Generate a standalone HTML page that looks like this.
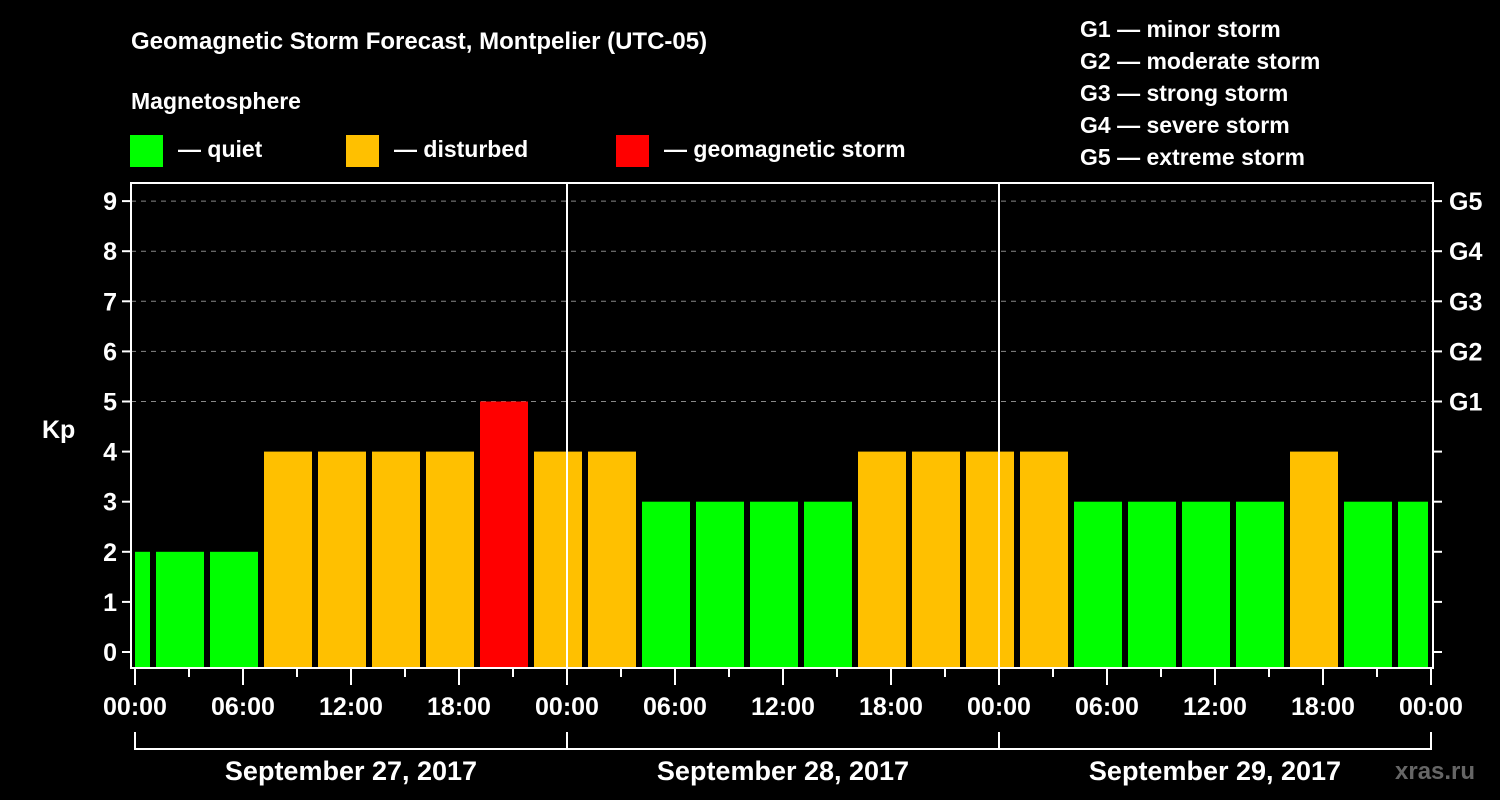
<!DOCTYPE html>
<html><head><meta charset="utf-8"><style>
html,body{margin:0;padding:0;background:#000;}
svg{display:block;font-family:"Liberation Sans",Arial,sans-serif;font-weight:bold;}
</style></head><body>
<svg id="chart" width="1500" height="800" viewBox="0 0 1500 800">
<rect width="1500" height="800" fill="#000"/>
<text x="131" y="49" fill="#fff" font-size="24">Geomagnetic Storm Forecast, Montpelier (UTC-05)</text>
<text x="131" y="109" fill="#fff" font-size="23">Magnetosphere</text>
<g><rect x="130" y="135" width="33" height="32" fill="#00ff00"/><text x="178" y="157" fill="#fff" font-size="23">— quiet</text></g>
<g><rect x="346" y="135" width="33" height="32" fill="#ffc000"/><text x="394" y="157" fill="#fff" font-size="23">— disturbed</text></g>
<g><rect x="616" y="135" width="33" height="32" fill="#ff0000"/><text x="664" y="157" fill="#fff" font-size="23">— geomagnetic storm</text></g>
<g fill="#fff" font-size="23">
<text x="1080" y="37">G1 — minor storm</text>
<text x="1080" y="69">G2 — moderate storm</text>
<text x="1080" y="101">G3 — strong storm</text>
<text x="1080" y="133">G4 — severe storm</text>
<text x="1080" y="165">G5 — extreme storm</text>
</g>
<text x="42" y="438" fill="#fff" font-size="25">Kp</text>
<text x="1395" y="779" fill="#666" font-size="24">xras.ru</text>
<g id="plot"></g>
</svg>
<script>
const kpValues = [2,2,2,4,4,4,4,5,4,4,3,3,3,3,4,4,4,4,3,3,3,3,4,3,3];
const binStartHours = [-2,1,4,7,10,13,16,19,22,25,28,31,34,37,40,43,46,49,52,55,58,61,64,67,70];
const yTicks = [0,1,2,3,4,5,6,7,8,9];
const gLabels = ["G1","G2","G3","G4","G5"];
const gLevels = [5,6,7,8,9];
const xTickLabels = ["00:00","06:00","12:00","18:00","00:00","06:00","12:00","18:00","00:00","06:00","12:00","18:00","00:00"];
const dayLabels = ["September 27, 2017","September 28, 2017","September 29, 2017"];

const NS="http://www.w3.org/2000/svg";
const g=document.getElementById('plot');
const L=131,R=1433,T=183,B=668,X0=135,PXH=18;
const x=h=>X0+h*PXH;
const y=v=>652-v*50.1;
function el(tag,attrs,parent){const e=document.createElementNS(NS,tag);for(const k in attrs)e.setAttribute(k,attrs[k]);(parent||g).appendChild(e);return e;}
// gridlines
gLevels.forEach(v=>{const l=el('line',{x1:L,x2:R,y1:y(v),y2:y(v),stroke:'#888','stroke-dasharray':'5,5','stroke-width':1});

});
// bars
kpValues.forEach((v,i)=>{
  let x1=Math.max(x(binStartHours[i])+3,X0), x2=Math.min(x(binStartHours[i]+3)-3,1428);
  const c=v>=5?'#ff0000':(v>=4?'#ffc000':'#00ff00');
  const r=el('rect',{x:x1,y:y(v),width:x2-x1,height:B-y(v),fill:c});
  
  
});
// day separators
[1,2].forEach(d=>{const l=el('line',{x1:x(d*24),x2:x(d*24),y1:T,y2:B,stroke:'#fff','stroke-width':2});

});
// frame
const f=el('rect',{x:L,y:T,width:R-L,height:B-T,fill:'none',stroke:'#fff','stroke-width':2});


// y ticks
yTicks.forEach(v=>{
  el('line',{x1:L-9,x2:L,y1:y(v),y2:y(v),stroke:'#fff','stroke-width':2});
  el('line',{x1:R,x2:R+9,y1:y(v),y2:y(v),stroke:'#fff','stroke-width':2});
  const t=el('text',{x:117,y:y(v)+9,fill:'#fff','font-size':25,'text-anchor':'end'});t.textContent=v;
  
  
});
gLabels.forEach((s,i)=>{const t=el('text',{x:1449,y:y(gLevels[i])+9,fill:'#fff','font-size':25});t.textContent=s;

});
// x ticks
for(let h=0;h<=72;h+=3){const long=h%6===0;el('line',{x1:x(h),x2:x(h),y1:B,y2:B+(long?17:9),stroke:'#fff','stroke-width':2});}
xTickLabels.forEach((s,i)=>{const t=el('text',{x:x(i*6),y:715,fill:'#fff','font-size':25,'text-anchor':'middle'});t.textContent=s;

});
// day bracket
el('line',{x1:x(0),x2:x(72),y1:749,y2:749,stroke:'#fff','stroke-width':2});
for(let d=0;d<=3;d++)el('line',{x1:x(d*24),x2:x(d*24),y1:732,y2:750,stroke:'#fff','stroke-width':2});
dayLabels.forEach((s,i)=>{const t=el('text',{x:x(i*24+12),y:780,fill:'#fff','font-size':27,'text-anchor':'middle'});t.textContent=s;

});
</script>
</body></html>
